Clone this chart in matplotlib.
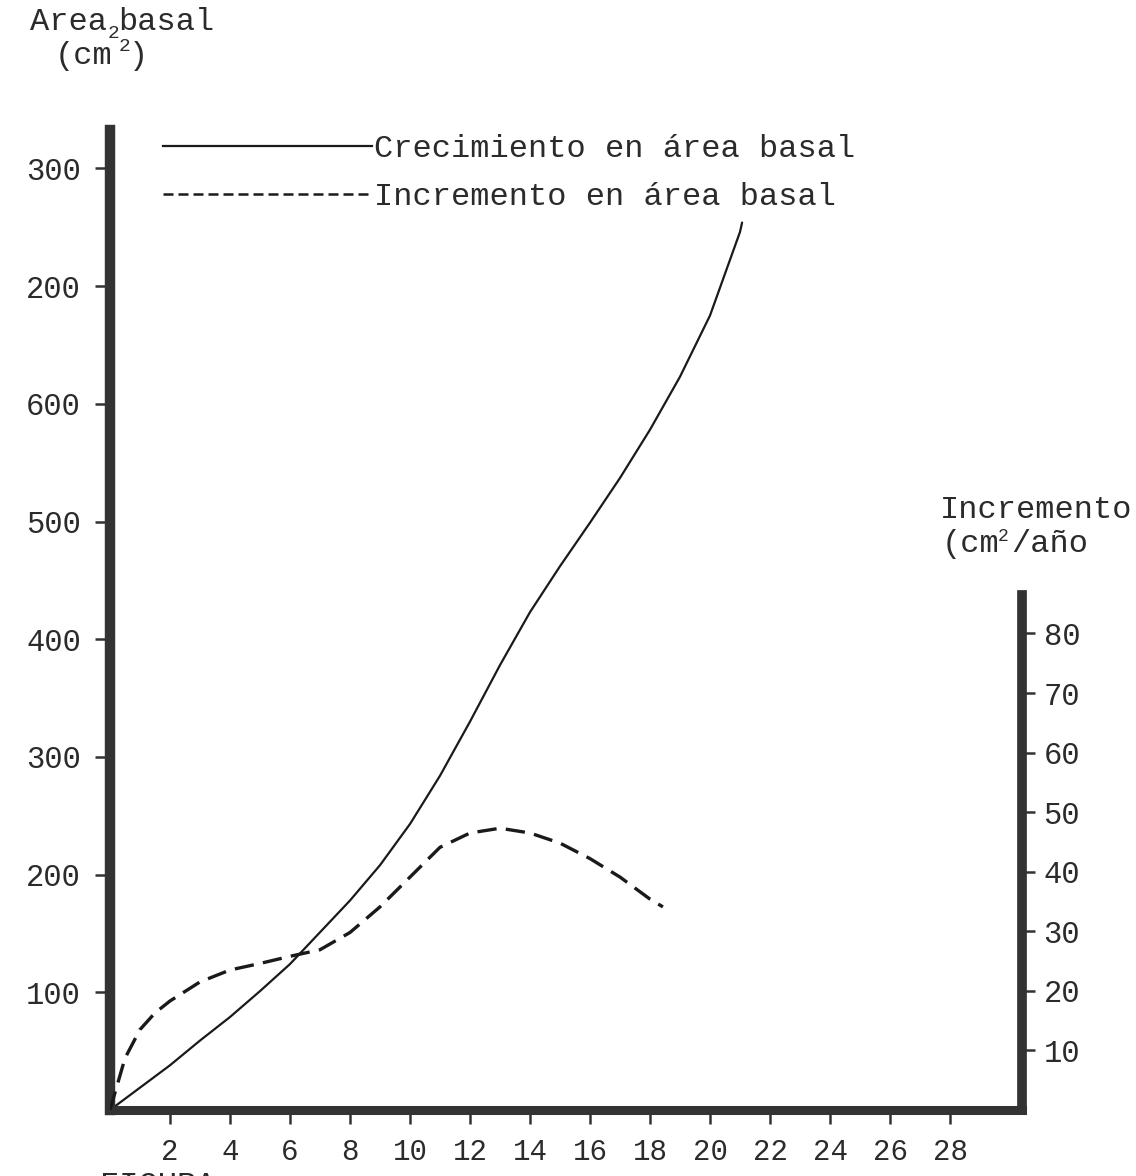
import matplotlib
matplotlib.use("Agg")
import matplotlib.pyplot as plt
from matplotlib.lines import Line2D

# ---------------- data ----------------
growth_age = [0, 1, 2, 3, 4, 5, 6, 7, 8, 9, 10, 11, 12, 13, 14, 15, 16, 17, 18, 19, 20, 21, 21.07]
growth_area = [0, 19, 38, 59, 79, 101, 124, 151, 178, 208, 243, 284, 330, 378, 423, 462, 499, 537, 578, 623, 675, 746, 754]

incr_age = [0, 0.5, 1, 1.5, 2, 3, 4, 5, 6, 7, 8, 9, 10, 11, 12, 13, 14, 15, 16, 17, 18, 18.43]
incr_value = [0, 8.7, 13.5, 16.3, 18.3, 21.5, 23.5, 24.6, 25.8, 26.9, 29.8, 34.1, 39.1, 44.1, 46.5, 47.3, 46.5, 44.8, 42.2, 39.1, 35.4, 34.1]

x_ticks = [2, 4, 6, 8, 10, 12, 14, 16, 18, 20, 22, 24, 26, 28]
x_tick_labels = ["2", "4", "6", "8", "10", "12", "14", "16", "18", "20", "22", "24", "26", "28"]
left_ticks = [100, 200, 300, 400, 500, 600, 700, 800]
left_tick_labels = ["100", "200", "300", "400", "500", "600", "200", "300"]
right_ticks = [10, 20, 30, 40, 50, 60, 70, 80]
right_tick_labels = ["10", "20", "30", "40", "50", "60", "70", "80"]

legend_labels = ["Crecimiento en área basal", "Incremento en área basal"]

# ---------------- layout ----------------
W, H = 1136, 1176
DPI = 100
MONO = "Liberation Mono"
INK = "#2b2b2b"
AXC = "#333333"

fig = plt.figure(figsize=(W / DPI, H / DPI), dpi=DPI)
fig.patch.set_facecolor("white")

left_px, right_px = 110, 1022
bottom_px, top_px = 1110, 130
ax = fig.add_axes([left_px / W, 1 - bottom_px / H, (right_px - left_px) / W, (bottom_px - top_px) / H])

x_scale = 30.0      # px per year
left_scale = 1.177  # px per cm2
right_scale = 5.957 # px per cm2/año

ax.set_xlim(0, (right_px - left_px) / x_scale)
ax.set_ylim(0, (bottom_px - top_px) / left_scale)

ax2 = ax.twinx()
ax2.set_ylim(0, (bottom_px - top_px) / right_scale)

# curves
ax.plot(growth_age, growth_area, color="#1a1a1a", lw=1.6, solid_capstyle="round",
        solid_joinstyle="round")
ax2.plot(incr_age, incr_value, color="#1a1a1a", lw=2.4, dashes=(5.8, 2.8))

# spines
for a in (ax, ax2):
    a.spines["top"].set_visible(False)
ax.spines["right"].set_visible(False)
ax2.spines["left"].set_visible(False)
ax2.spines["bottom"].set_visible(False)
ax.spines["left"].set_linewidth(7.5)
ax.spines["left"].set_color(AXC)
ax.spines["bottom"].set_linewidth(6.5)
ax.spines["bottom"].set_color(AXC)
ax.spines["left"].set_capstyle("projecting")
ax2.spines["right"].set_linewidth(7.0)
ax2.spines["right"].set_color(AXC)
ax2.spines["right"].set_bounds(0, 86.5)

# ticks
ax.set_xticks(x_ticks)
ax.set_xticklabels(x_tick_labels, fontfamily=MONO, fontsize=21, color=INK)
ax.set_yticks(left_ticks)
ax.set_yticklabels(left_tick_labels, fontfamily=MONO, fontsize=22, color=INK)
ax.tick_params(axis="x", direction="out", length=10, width=1.8, color=AXC, pad=10)
ax.tick_params(axis="y", direction="out", length=11, width=1.8, color=AXC, pad=10)

ax2.set_yticks(right_ticks)
ax2.set_yticklabels(right_tick_labels, fontfamily=MONO, fontsize=22, color=INK)
ax2.tick_params(axis="y", direction="out", length=9.5, width=1.8, color=AXC, pad=6)

# legend
handles = [
    Line2D([], [], color="#1a1a1a", lw=1.6),
    Line2D([], [], color="#1a1a1a", lw=1.8, dashes=(4, 2)),
]
ax.legend(handles, legend_labels, loc="upper left",
          bbox_to_anchor=(163 / W, 1 - 134 / H), bbox_transform=fig.transFigure,
          frameon=False, handlelength=6.55, handletextpad=0.07, borderpad=0,
          borderaxespad=0, labelspacing=0.56,
          prop={"family": MONO, "size": 23}, labelcolor=INK)


def ftext(x, y, s, size=23, **kw):
    fig.text(x / W, 1 - y / H, s, fontfamily=MONO, fontsize=size, color=INK,
             va="baseline", ha="left", **kw)


# left axis title  "Area2basal / (cm2)"
ftext(30, 30, "Area")
ftext(108, 38, "2", size=14)
ftext(118, 30, "basal")
ftext(55, 64, "(cm")
ftext(119, 51, "2", size=14)
ftext(129, 64, ")")

# right axis title
ftext(940, 518, "Incremento")
ftext(942, 552, "(cm")
ftext(998, 541, "2", size=13)
ftext(1011, 552, "/año")

# cut-off caption at the very bottom
fig.text(100 / W, 1 - 1171 / H, "FIGURA", fontfamily=MONO, fontsize=23,
         color=INK, va="top", ha="left")

fig.savefig("out.png", dpi=DPI, facecolor="white")
